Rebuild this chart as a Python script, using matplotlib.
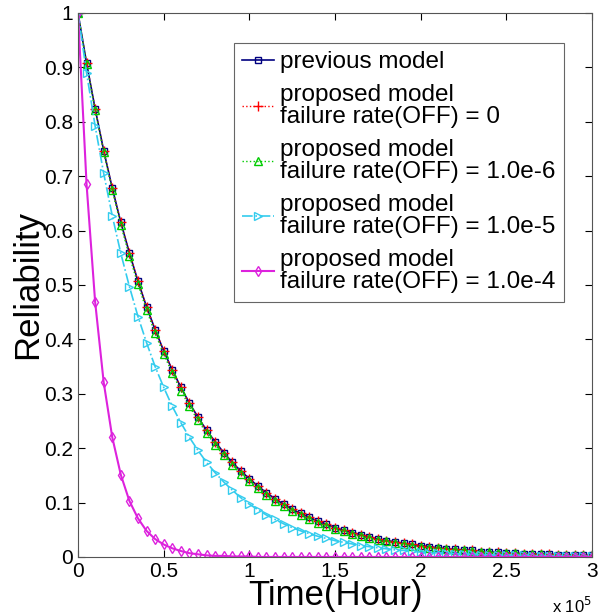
import numpy as np
import matplotlib
matplotlib.use('Agg')
import matplotlib.pyplot as plt
from matplotlib.ticker import FuncFormatter

plt.rcParams['font.family'] = ['Liberation Sans', 'DejaVu Sans']

# time axis, one sample every 5000 hours
t = np.arange(0, 300001, 5000)

previous = [1.000, 0.908, 0.824, 0.747, 0.678, 0.615, 0.559, 0.507, 0.460, 0.418,
            0.379, 0.344, 0.312, 0.283, 0.257, 0.233, 0.212, 0.192, 0.174, 0.158,
            0.144, 0.130, 0.118, 0.107, 0.097, 0.088, 0.080, 0.073, 0.066, 0.060,
            0.054, 0.049, 0.045, 0.041, 0.037, 0.033, 0.030, 0.028, 0.025, 0.023,
            0.021, 0.019, 0.017, 0.015, 0.014, 0.013, 0.012, 0.010, 0.009, 0.009,
            0.008, 0.007, 0.006, 0.006, 0.005, 0.005, 0.004, 0.004, 0.004, 0.003,
            0.003]
off_0 = list(previous)
off_1e6 = [1.000, 0.906, 0.821, 0.744, 0.674, 0.610, 0.553, 0.501, 0.454, 0.411,
           0.373, 0.338, 0.306, 0.277, 0.251, 0.228, 0.206, 0.187, 0.169, 0.153,
           0.139, 0.126, 0.114, 0.103, 0.094, 0.085, 0.077, 0.070, 0.063, 0.057,
           0.052, 0.047, 0.042, 0.038, 0.035, 0.031, 0.029, 0.026, 0.023, 0.021,
           0.019, 0.017, 0.016, 0.014, 0.013, 0.012, 0.011, 0.010, 0.009, 0.008,
           0.007, 0.007, 0.006, 0.005, 0.005, 0.004, 0.004, 0.004, 0.003, 0.003,
           0.003]
off_1e5 = [1.000, 0.890, 0.792, 0.705, 0.627, 0.558, 0.497, 0.442, 0.394, 0.350,
           0.312, 0.277, 0.247, 0.220, 0.196, 0.174, 0.155, 0.138, 0.123, 0.109,
           0.097, 0.087, 0.077, 0.069, 0.061, 0.054, 0.048, 0.043, 0.038, 0.034,
           0.030, 0.027, 0.024, 0.021, 0.019, 0.017, 0.015, 0.013, 0.012, 0.011,
           0.009, 0.008, 0.008, 0.007, 0.006, 0.005, 0.005, 0.004, 0.004, 0.003,
           0.003, 0.003, 0.003, 0.002, 0.002, 0.002, 0.002, 0.001, 0.001, 0.001,
           0.001]
off_1e4 = [1.000, 0.685, 0.469, 0.321, 0.220, 0.151, 0.103, 0.071, 0.048, 0.033,
           0.023, 0.016, 0.011, 0.007, 0.005, 0.003, 0.002, 0.002, 0.001, 0.001,
           0.001] + [0.0] * 40

labels = ['previous model',
          'proposed model\nfailure rate(OFF) = 0',
          'proposed model\nfailure rate(OFF) = 1.0e-6',
          'proposed model\nfailure rate(OFF) = 1.0e-5',
          'proposed model\nfailure rate(OFF) = 1.0e-4']

fig = plt.figure(figsize=(6.06, 6.16), dpi=100)
ax = fig.add_axes([0.1287, 0.0958, 0.8483, 0.8832])

ax.plot(t, previous, '-s', color='#000080', mfc='none', ms=5, lw=1.2, label=labels[0])
ax.plot(t, off_0, ':+', color='#ff0000', ms=7, lw=1, label=labels[1])
ax.plot(t, off_1e6, ':^', color='#00cc00', mfc='none', ms=6, lw=1, label=labels[2])
ax.plot(t, off_1e5, '-.>', color='#33ccee', mfc='none', ms=6, lw=1.2, label=labels[3])
ax.plot(t, off_1e4, '-d', color='#dd22dd', mfc='none', ms=5, lw=1.5, label=labels[4])

ax.set_xlim(0, 300000)
ax.set_ylim(0, 1)
ax.set_xticks(np.arange(0, 300001, 50000))
ax.set_yticks(np.arange(0, 1.01, 0.1))
ax.xaxis.set_major_formatter(FuncFormatter(lambda v, p: '%g' % (v / 1e5)))
ax.yaxis.set_major_formatter(FuncFormatter(lambda v, p: '%g' % round(v, 1)))
ax.tick_params(direction='in', top=True, right=True, labelsize=15, length=5, width=0.8)
for s in ax.spines.values():
    s.set_color('#555555')

ax.set_xlabel('Time(Hour)', fontsize=25, labelpad=-1)
ax.set_ylabel('Reliability', fontsize=25, labelpad=0)
ax.text(1.0, -0.072, 'x 10$^5$', transform=ax.transAxes, fontsize=12,
        ha='right', va='top')

leg = ax.legend(loc='upper right', bbox_to_anchor=(0.9455, 0.945), fontsize=17.5,
                handlelength=1.3, handletextpad=0.25, labelspacing=0.45,
                borderpad=0.35, fancybox=False, framealpha=1, borderaxespad=0)
for txt in leg.get_texts():
    txt.set_linespacing(1.0)
leg.get_frame().set_edgecolor('#666666')
leg.get_frame().set_linewidth(0.8)

fig.savefig('out.png', dpi=100)
